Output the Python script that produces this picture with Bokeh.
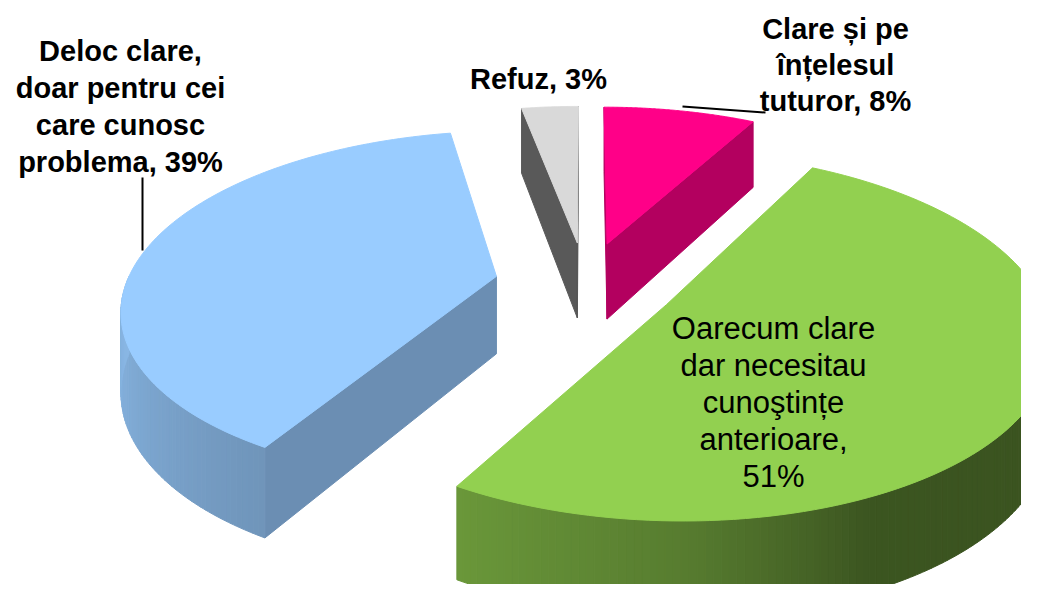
import numpy as np
from bokeh.plotting import figure
from bokeh.models import Range1d, ColumnDataSource
from bokeh.embed import file_html
from bokeh.resources import INLINE
from bokeh.core.properties import value

# ---------------- data ----------------
categories = [
    "Clare și pe înțelesul tuturor",
    "Oarecum clare dar necesitau cunoştințe anterioare",
    "Deloc clare, doar pentru cei care cunosc problema",
    "Refuz",
]
percents = [8, 51, 39, 3]
label_lines = [
    ["Clare și pe", "înțelesul", "tuturor, 8%"],
    ["Oarecum clare", "dar necesitau", "cunoştințe", "anterioare,", "51%"],
    ["Deloc clare,", "doar pentru cei", "care cunosc", "problema, 39%"],
    ["Refuz, 3%"],
]
top_colors = ["#FF0088", "#92D050", "#99CCFF", "#D9D9D9"]
face_colors = ["#B3005F", "#5E8A33", "#6B8EB3", "#595959"]

# ---------------- layout / style ----------------
CX, CY = 585.0, 283.0      # pie centre (screen px)
F, G = 370.0, 172.0        # horizontal / vertical radius scale
K = 0.168                  # perspective strength
H = 78.0                   # thickness
EXPLODE = 0.246
label_x = [835, 773, 120, 538]
label_y0 = [28, 328, 50, 78]
label_gap = [36, 37, 37, 0]
label_bold = [True, False, True, True]
label_size = ["29px", "31px", "29px", "29px"]
leaders = [((682, 106), (765, 112)), None, ((142, 177), (142, 250)), None]
shade_theta = [90, 155, 180, 210, 240, 270]
shade_fact = [0.40, 0.41, 0.60, 0.73, 0.82, 0.90]


def proj(u, v, h=0.0):
    s = 1.0 / (1.0 + K * v)
    x = CX + F * u * s
    ys = CY - G * v * s + H * h * s
    return x, -ys


def shade(hexcol, f):
    r, g, b = int(hexcol[1:3], 16), int(hexcol[3:5], 16), int(hexcol[5:7], 16)
    return "#%02x%02x%02x" % (int(r * f), int(g * f), int(b * f))


def side_factor(theta_deg):
    return float(np.interp(theta_deg, shade_theta, shade_fact))


p = figure(width=1021, height=584, x_range=Range1d(0, 1021), y_range=Range1d(-584, 0),
           toolbar_location=None, output_backend="svg", min_border=0,
           x_axis_location=None, y_axis_location=None)
p.grid.visible = False
p.outline_line_color = None
p.background_fill_color = "white"

total = float(sum(percents))
slices = []
start = 0.0
for i, pc in enumerate(percents):
    a0 = start
    a1 = start + 360.0 * pc / total
    start = a1
    mid = np.radians((a0 + a1) / 2)
    u0, v0 = EXPLODE * np.sin(mid), EXPLODE * np.cos(mid)
    slices.append((i, a0, a1, u0, v0))

cam = (0.0, -1.0 / K)
xs, ys, cols = [], [], []
for (i, a0, a1, u0, v0) in sorted(slices, key=lambda s: -s[4]):
    # radial faces
    for ang, sign in ((a0, -1), (a1, 1)):
        r = np.radians(ang)
        n = (sign * np.cos(r), -sign * np.sin(r))
        if n[0] * (cam[0] - u0) + n[1] * (cam[1] - v0) > 0:
            ru, rv = u0 + np.sin(r), v0 + np.cos(r)
            pts = [proj(u0, v0, 0), proj(ru, rv, 0), proj(ru, rv, 1), proj(u0, v0, 1)]
            xs.append([q[0] for q in pts]); ys.append([q[1] for q in pts])
            cols.append(face_colors[i])
    # outer curved face (front part)
    lo, hi = max(a0, 90.0), min(a1, 270.0)
    if hi > lo:
        nstrip = max(2, int((hi - lo) / 1.0))
        edges = np.linspace(lo, hi, nstrip + 1)
        for t0, t1 in zip(edges[:-1], edges[1:]):
            tt = np.radians(np.linspace(t0, t1, 3))
            top = [proj(u0 + np.sin(t), v0 + np.cos(t), 0) for t in tt]
            bot = [proj(u0 + np.sin(t), v0 + np.cos(t), 1) for t in tt[::-1]]
            pts = top + bot
            xs.append([q[0] for q in pts]); ys.append([q[1] for q in pts])
            cols.append(shade(top_colors[i], side_factor((t0 + t1) / 2)))
    # top face
    tt = np.radians(np.linspace(a0, a1, 120))
    pts = [proj(u0, v0, 0)] + [proj(u0 + np.sin(t), v0 + np.cos(t), 0) for t in tt]
    xs.append([q[0] for q in pts]); ys.append([q[1] for q in pts])
    cols.append(top_colors[i])

src = ColumnDataSource(dict(xs=xs, ys=ys, c=cols))
p.patches("xs", "ys", source=src, fill_color="c", line_color="c", line_width=1.0)

# leader lines
for ld in leaders:
    if ld is None:
        continue
    (x0, y0), (x1, y1) = ld
    p.line([x0, x1], [-y0, -y1], line_color="black", line_width=2)

# labels
for i, lines in enumerate(label_lines):
    tx = [label_x[i]] * len(lines)
    ty = [-(label_y0[i] + k * label_gap[i]) for k in range(len(lines))]
    p.text(x=tx, y=ty, text=lines, text_align="center", text_baseline="alphabetic",
           text_font=value("Liberation Sans"), text_font_size=label_size[i],
           text_font_style="bold" if label_bold[i] else "normal", text_color="black")

open("out.html", "w").write(file_html(p, INLINE))
